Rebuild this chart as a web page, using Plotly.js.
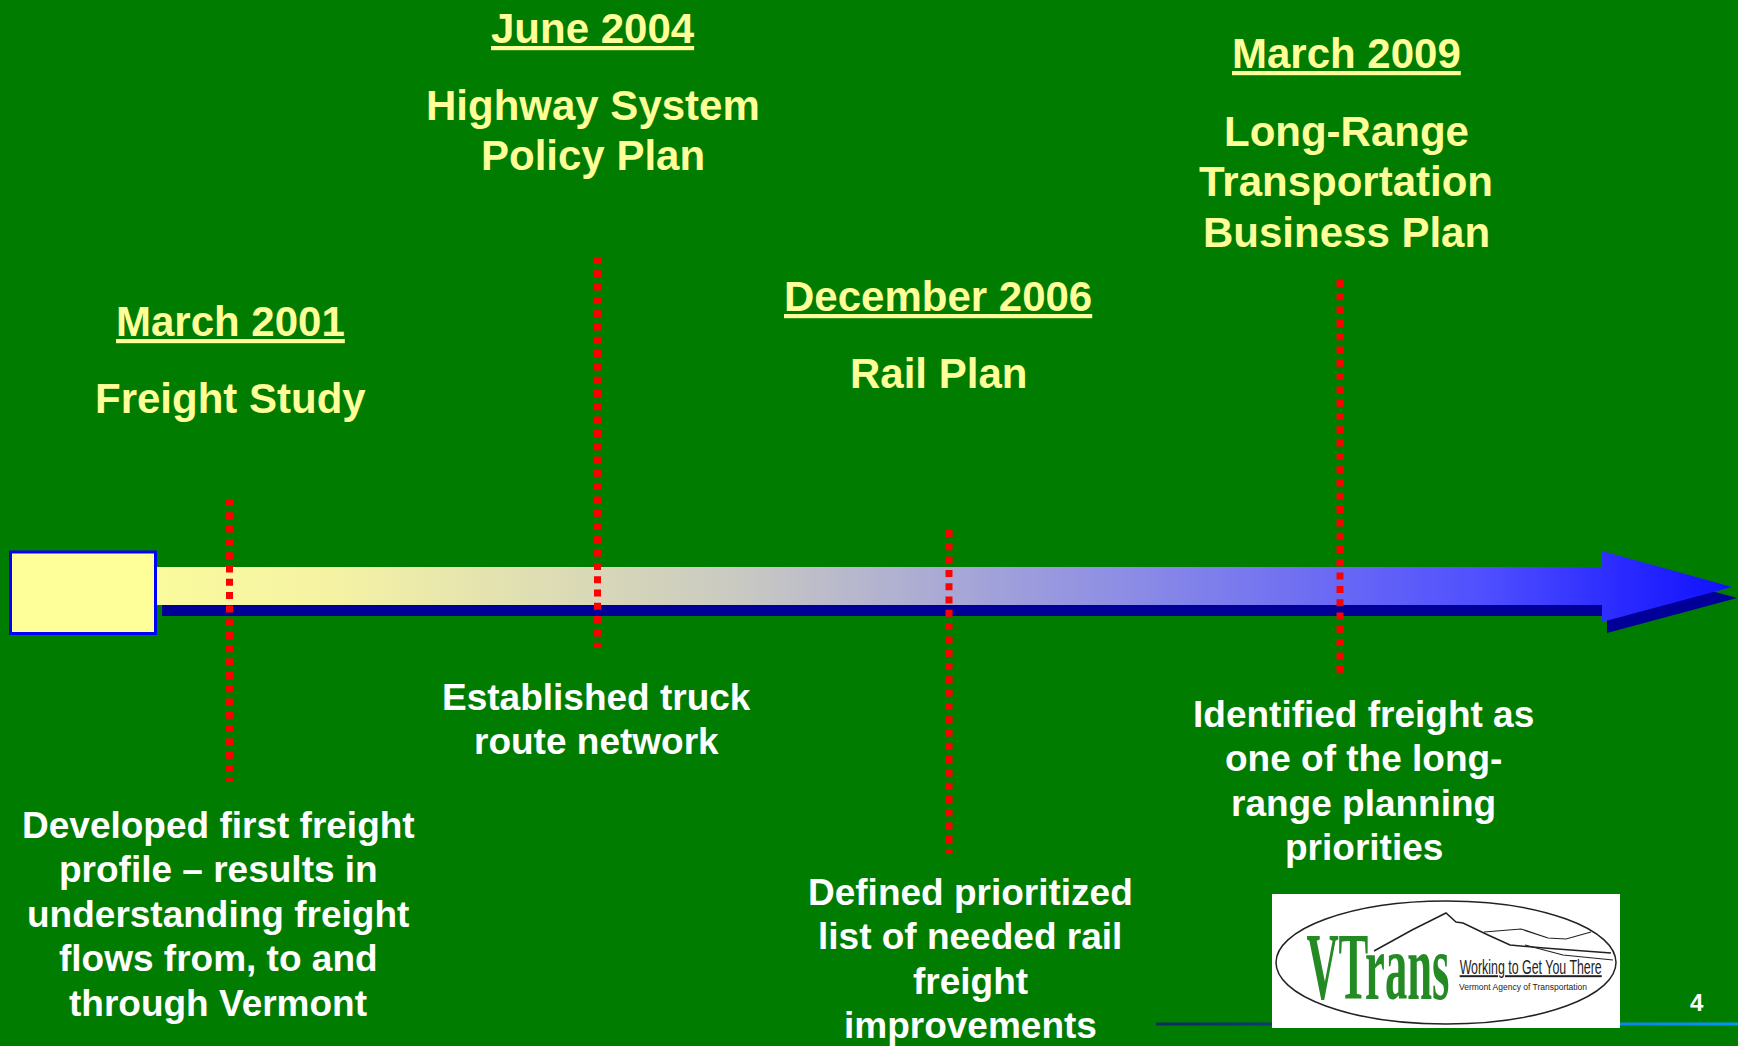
<!DOCTYPE html>
<html>
<head>
<meta charset="utf-8">
<script src="https://cdn.plot.ly/plotly-3.0.1.min.js"></script>
<style>
  body { margin: 0; background: #007C00; }
  #myDiv { width: 1738px; height: 1046px; }
</style>
</head>
<body>
<div id="myDiv"></div>
<script>
// timeline content
var dates = ['March 2001', 'June 2004', 'December 2006', 'March 2009'];
var plans = [
    ['Freight Study'],
    ['Highway System', 'Policy Plan'],
    ['Rail Plan'],
    ['Long-Range', 'Transportation', 'Business Plan']
];
var outcomes = [
    ['Developed first freight', 'profile \u2013 results in', 'understanding freight', 'flows from, to and', 'through Vermont'],
    ['Established truck', 'route network'],
    ['Defined prioritized', 'list of needed rail', 'freight', 'improvements'],
    ['Identified freight as', 'one of the long-', 'range planning', 'priorities']
];

// where things sit on the slide (axes are in slide pixels)
var markX = [229.5, 597.5, 949, 1340];
var markTop = [499, 257, 530, 280];
var markBottom = [782, 648, 854, 678];
var headX = [230, 592.5, 938, 1346];
var headY = [321.5, 28, 296, 53];
var planY = [398, 105, 373.5, 131];
var textX = [218, 596, 970, 1363.5];
var textY = [825, 697, 892, 714];

var font = 'Liberation Sans, Arial, sans-serif';
var yellow = '#FFFF99';

// arrow body + head, and its dark shadow
var ax = [157, 1602, 1602, 1732, 1602, 1602, 157, 157];
var ay = [567, 567, 551, 587, 622, 605, 605, 567];

var shadow = {
    x: ax.map(function (v) { return v + 5; }),
    y: ay.map(function (v) { return v + 11; }),
    mode: 'lines', line: {width: 0}, fill: 'toself', fillcolor: '#000099',
    hoverinfo: 'skip'
};
var arrow = {
    x: ax, y: ay,
    mode: 'lines', line: {width: 0}, fill: 'toself',
    fillgradient: {
        type: 'horizontal',
        colorscale: [[0, '#FAFA9E'], [0.11, '#F5F3A3'], [0.364, '#CACAC2'],
                     [0.618, '#8C8CE6'], [0.84, '#5050FF'], [0.93, '#2A2AFF'], [1, '#1010FF']]
    },
    hoverinfo: 'skip'
};
var footLine = {
    x: [1156, 1738, 1738, 1156, 1156],
    y: [1022.5, 1022.5, 1025.5, 1025.5, 1022.5],
    mode: 'lines', line: {width: 0}, fill: 'toself',
    fillgradient: {type: 'horizontal', colorscale: [[0, '#0B2C5E'], [0.25, '#103C7A'], [0.7, '#0A80E0'], [1, '#0096FF']]},
    hoverinfo: 'skip'
};
var data = [shadow, arrow, footLine];

var shapes = [{
    type: 'rect', x0: 10.5, x1: 155.5, y0: 552, y1: 633.5,
    fillcolor: '#FFFF99', line: {color: '#0000FF', width: 3}
}];
markX.forEach(function (x, i) {
    shapes.push({
        type: 'line', x0: x, x1: x, y0: markTop[i], y1: markBottom[i],
        line: {color: '#FF0000', width: 7, dash: '7px,6.3px'}
    });
});

// VTrans logo
shapes.push({type: 'rect', x0: 1272, x1: 1620, y0: 894, y1: 1028, fillcolor: '#FFFFFF', line: {width: 0}});
shapes.push({type: 'circle', x0: 1276, x1: 1616, y0: 901, y1: 1024, line: {color: '#222222', width: 1.5}});
shapes.push({type: 'path', line: {color: '#222222', width: 1.5},
    path: 'M1374,951 L1412,930 L1446,913 L1456,922 L1463,923 L1488,935 L1510,945 L1544,948 L1611,953'});
shapes.push({type: 'path', line: {color: '#222222', width: 1.2},
    path: 'M1484,932 L1521,929 L1548,938 L1566,939 L1591,932'});
shapes.push({type: 'path', line: {color: '#222222', width: 1.2},
    path: 'M1525,945 L1563,955 L1613,960'});

var annotations = [];
function addText(txt, x, y, size, color, extra) {
    var a = {
        text: txt, x: x, y: y, xref: 'x', yref: 'y',
        xanchor: 'center', yanchor: 'middle', showarrow: false,
        font: {family: font, size: size, color: color, weight: 700}
    };
    for (var k in extra) { a[k] = extra[k]; }
    annotations.push(a);
    return annotations.length - 1;
}

dates.forEach(function (d, i) {
    addText(d, headX[i], headY[i], 42, yellow,
        {font: {family: font, size: 42, color: yellow, weight: 700, lineposition: 'under'}});
    plans[i].forEach(function (line, j) {
        addText(line, headX[i], planY[i] + j * 50.5, 42, yellow);
    });
    outcomes[i].forEach(function (line, j) {
        addText(line, textX[i], textY[i] + j * 44.6, 37, '#FFFFFF');
    });
});

addText('4', 1697, 1002, 24, '#FFFFFF');

// logo lettering, squeezed after drawing
var squeeze = [];
squeeze.push({idx: addText('VTrans', 1378, 966, 48, '#248A24',
    {font: {family: 'Liberation Serif, Times New Roman, serif', size: 48, color: '#248A24', weight: 700}}), sx: 0.93, sy: 2.0});
squeeze.push({idx: addText('Working to Get You There', 1530, 967, 20, '#222222',
    {font: {family: font, size: 20, color: '#222222', weight: 400, lineposition: 'under'}}), sx: 0.62, sy: 1.0});
addText('Vermont Agency of Transportation', 1523, 986.5, 8.5, '#222222',
    {font: {family: font, size: 8.5, color: '#222222', weight: 400}});

var layout = {
    width: 1738,
    height: 1046,
    margin: {l: 0, r: 0, t: 0, b: 0, pad: 0},
    paper_bgcolor: '#007C00',
    plot_bgcolor: '#007C00',
    showlegend: false,
    xaxis: {range: [0, 1738], visible: false, fixedrange: true},
    yaxis: {range: [1046, 0], visible: false, fixedrange: true},
    shapes: shapes,
    annotations: annotations
};

var config = {
    displayModeBar: false,
    staticPlot: true
};

var div = document.getElementById('myDiv');
Plotly.newPlot(div, data, layout, config).then(function () {
    // plotly has no font stretch, so scale the logo text by hand
    squeeze.forEach(function (s) {
        var t = div.querySelector('.annotation[data-index="' + s.idx + '"] .annotation-text');
        if (!t) return;
        var b = t.getBBox();
        var cx = b.x + b.width / 2, cy = b.y + b.height / 2;
        var old = t.getAttribute('transform') || '';
        t.setAttribute('transform', old + ' translate(' + cx + ',' + cy + ') scale(' + s.sx + ',' + s.sy + ') translate(' + (-cx) + ',' + (-cy) + ')');
    });
});
</script>
</body>
</html>
